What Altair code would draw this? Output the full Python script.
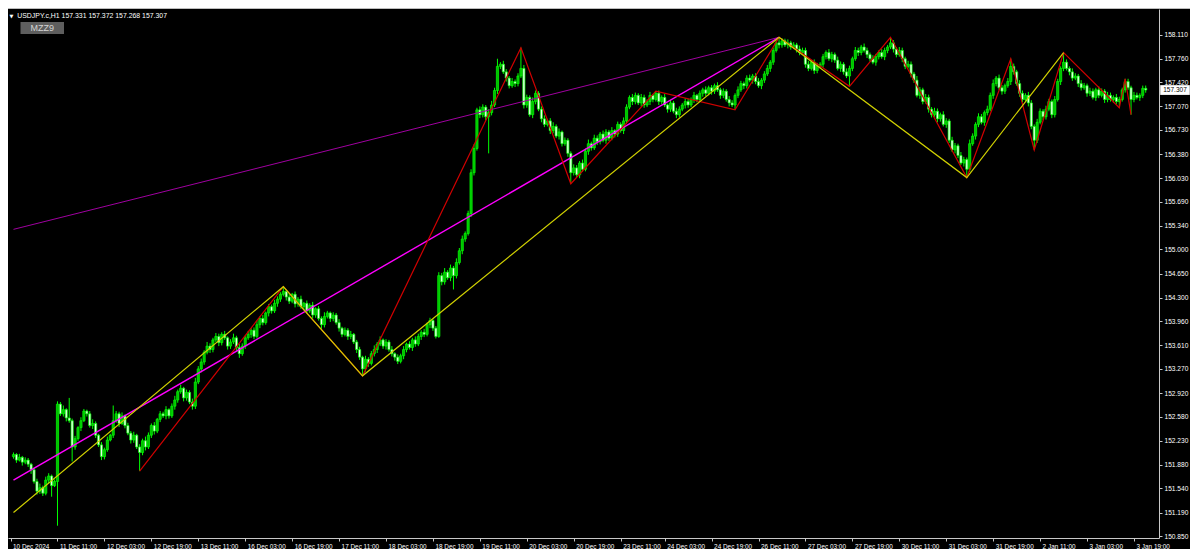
import altair as alt
import pandas as pd

# ---------------- data (USDJPY.c H1) ----------------
first_open = 152.00
close = [
    152.03, 151.95, 151.99, 151.92, 151.95, 151.89, 151.81, 151.64, 151.50, 151.55,
    151.47, 151.66, 151.72, 151.58, 151.64, 152.76, 152.62, 152.68, 152.56, 152.52,
    152.14, 152.26, 152.42, 152.52, 152.66, 152.62, 152.45, 152.48, 152.31, 152.17,
    152.00, 152.10, 152.24, 152.31, 152.52, 152.62, 152.48, 152.59, 152.45, 152.34,
    152.24, 152.31, 152.14, 152.06, 152.23, 152.14, 152.31, 152.45, 152.37, 152.54,
    152.62, 152.59, 152.68, 152.59, 152.73, 152.82, 152.94, 152.99, 152.85, 152.93,
    152.79, 152.73, 153.08, 153.27, 153.37, 153.51, 153.60, 153.55, 153.69, 153.74,
    153.65, 153.77, 153.72, 153.60, 153.66, 153.72, 153.58, 153.49, 153.60, 153.72,
    153.77, 153.83, 153.74, 153.91, 154.00, 153.94, 154.08, 154.17, 154.11, 154.22,
    154.28, 154.35, 154.39, 154.31, 154.25, 154.35, 154.21, 154.28, 154.17, 154.22,
    154.11, 154.19, 154.05, 154.14, 154.00, 153.91, 154.03, 154.08, 154.00, 154.05,
    153.94, 153.86, 153.77, 153.83, 153.74, 153.77, 153.66, 153.55, 153.44, 153.27,
    153.41, 153.35, 153.49, 153.55, 153.63, 153.69, 153.60, 153.66, 153.55, 153.49,
    153.44, 153.38, 153.46, 153.55, 153.63, 153.58, 153.69, 153.63, 153.74, 153.80,
    153.77, 153.91, 153.97, 153.86, 153.74, 154.62, 154.53, 154.67, 154.59, 154.73,
    154.62, 154.81, 154.98, 155.15, 155.23, 155.52, 156.11, 156.46, 157.02, 156.95,
    157.06, 156.92, 156.98, 157.09, 157.30, 157.65, 157.68, 157.57, 157.48, 157.37,
    157.43, 157.40, 157.51, 157.62, 157.09, 157.20, 156.95, 157.14, 157.26, 157.03,
    156.89, 156.81, 156.86, 156.72, 156.78, 156.64, 156.70, 156.53, 156.58, 156.39,
    156.11, 156.18, 156.08, 156.25, 156.16, 156.42, 156.53, 156.47, 156.61, 156.56,
    156.67, 156.58, 156.70, 156.61, 156.72, 156.67, 156.81, 156.72, 156.86, 157.06,
    157.20, 157.14, 157.23, 157.12, 157.20, 157.09, 157.14, 157.23, 157.17, 157.26,
    157.14, 157.20, 157.09, 157.03, 157.12, 157.00, 156.95, 157.03, 157.09, 157.14,
    157.09, 157.17, 157.23, 157.17, 157.26, 157.31, 157.26, 157.34, 157.29, 157.37,
    157.31, 157.23, 157.29, 157.17, 157.12, 157.09, 157.23, 157.31, 157.40, 157.37,
    157.48, 157.45, 157.51, 157.43, 157.37, 157.45, 157.54, 157.62, 157.71, 157.88,
    157.99, 157.96, 158.02, 157.96, 157.99, 157.93, 157.96, 157.90, 157.85, 157.88,
    157.68, 157.62, 157.71, 157.59, 157.65, 157.68, 157.79, 157.85, 157.76, 157.82,
    157.74, 157.62, 157.68, 157.57, 157.51, 157.62, 157.76, 157.88, 157.85, 157.93,
    157.88, 157.82, 157.76, 157.71, 157.79, 157.85, 157.79, 157.88, 157.93, 157.99,
    157.90, 157.82, 157.88, 157.76, 157.65, 157.68, 157.54, 157.45, 157.23, 157.31,
    157.14, 157.20, 157.03, 156.95, 157.00, 156.89, 156.95, 156.81, 156.86, 156.58,
    156.44, 156.50, 156.36, 156.25, 156.30, 156.16, 156.53, 156.64, 156.81, 156.92,
    156.84, 156.98, 157.03, 157.23, 157.40, 157.48, 157.34, 157.29, 157.37, 157.43,
    157.65, 157.57, 157.40, 157.26, 157.17, 157.23, 157.12, 156.78, 156.58, 156.84,
    157.00, 156.92, 157.03, 157.14, 156.95, 157.17, 157.43, 157.62, 157.71, 157.62,
    157.57, 157.48, 157.51, 157.40, 157.34, 157.37, 157.26, 157.29, 157.20, 157.31,
    157.23, 157.29, 157.17, 157.23, 157.17, 157.20, 157.14, 157.17, 157.31, 157.43,
    157.34, 157.17, 157.23, 157.20, 157.23, 157.331, 157.307,
]
upper_wick = [
    0.03, 0.02, 0.05, 0.02, 0.04, 0.03, 0.02, 0.03, 0.04, 0.06,
    0.03, 0.05, 0.04, 0.02, 0.03, 0.04, 0.03, 0.06, 0.02, 0.29,
    0.03, 0.04, 0.02, 0.05, 0.03, 0.02, 0.04, 0.06, 0.03, 0.02,
    0.04, 0.03, 0.05, 0.02, 0.22, 0.04, 0.03, 0.05, 0.02, 0.04,
    0.03, 0.05, 0.02, 0.04, 0.03, 0.06, 0.04, 0.03, 0.05, 0.02,
    0.04, 0.03, 0.05, 0.02, 0.04, 0.06, 0.03, 0.05, 0.02, 0.04,
    0.03, 0.05, 0.06, 0.04, 0.05, 0.03, 0.06, 0.04, 0.03, 0.05,
    0.04, 0.03, 0.05, 0.02, 0.04, 0.06, 0.03, 0.05, 0.04, 0.03,
    0.05, 0.03, 0.04, 0.06, 0.03, 0.05, 0.02, 0.04, 0.03, 0.05,
    0.04, 0.03, 0.07, 0.03, 0.05, 0.02, 0.04, 0.03, 0.05, 0.02,
    0.04, 0.03, 0.05, 0.02, 0.04, 0.03, 0.06, 0.03, 0.02, 0.04,
    0.03, 0.05, 0.02, 0.04, 0.03, 0.05, 0.02, 0.03, 0.04, 0.02,
    0.05, 0.03, 0.04, 0.06, 0.03, 0.05, 0.02, 0.04, 0.03, 0.05,
    0.02, 0.04, 0.03, 0.05, 0.02, 0.04, 0.03, 0.05, 0.04, 0.03,
    0.05, 0.03, 0.04, 0.02, 0.03, 0.05, 0.04, 0.06, 0.03, 0.05,
    0.03, 0.06, 0.04, 0.05, 0.03, 0.04, 0.05, 0.06, 0.03, 0.05,
    0.04, 0.03, 0.05, 0.06, 0.04, 0.11, 0.03, 0.05, 0.04, 0.03,
    0.05, 0.03, 0.04, 0.30, 0.05, 0.04, 0.03, 0.06, 0.04, 0.03,
    0.04, 0.05, 0.03, 0.04, 0.06, 0.03, 0.05, 0.02, 0.04, 0.03,
    0.03, 0.05, 0.04, 0.03, 0.05, 0.04, 0.06, 0.03, 0.05, 0.04,
    0.03, 0.05, 0.04, 0.03, 0.05, 0.02, 0.04, 0.03, 0.05, 0.04,
    0.03, 0.05, 0.04, 0.03, 0.05, 0.04, 0.03, 0.05, 0.02, 0.03,
    0.04, 0.03, 0.05, 0.02, 0.04, 0.03, 0.05, 0.04, 0.03, 0.05,
    0.04, 0.03, 0.05, 0.02, 0.04, 0.03, 0.05, 0.03, 0.04, 0.03,
    0.05, 0.03, 0.04, 0.03, 0.05, 0.04, 0.03, 0.05, 0.04, 0.03,
    0.04, 0.05, 0.03, 0.04, 0.05, 0.03, 0.04, 0.05, 0.03, 0.04,
    0.05, 0.08, 0.04, 0.03, 0.05, 0.03, 0.04, 0.03, 0.05, 0.04,
    0.04, 0.05, 0.03, 0.04, 0.05, 0.03, 0.04, 0.03, 0.05, 0.04,
    0.03, 0.05, 0.04, 0.03, 0.05, 0.04, 0.03, 0.05, 0.04, 0.03,
    0.05, 0.04, 0.03, 0.05, 0.04, 0.03, 0.05, 0.04, 0.03, 0.08,
    0.04, 0.03, 0.05, 0.04, 0.03, 0.05, 0.04, 0.03, 0.06, 0.04,
    0.03, 0.05, 0.04, 0.03, 0.05, 0.04, 0.03, 0.05, 0.04, 0.03,
    0.05, 0.04, 0.03, 0.05, 0.04, 0.03, 0.06, 0.04, 0.03, 0.05,
    0.04, 0.03, 0.05, 0.04, 0.06, 0.03, 0.05, 0.04, 0.03, 0.05,
    0.11, 0.04, 0.03, 0.05, 0.04, 0.03, 0.05, 0.04, 0.03, 0.05,
    0.04, 0.03, 0.05, 0.04, 0.03, 0.05, 0.04, 0.03, 0.14, 0.04,
    0.03, 0.05, 0.04, 0.03, 0.05, 0.04, 0.03, 0.05, 0.04, 0.03,
    0.05, 0.04, 0.03, 0.05, 0.04, 0.03, 0.05, 0.04, 0.03, 0.04,
    0.04, 0.03, 0.05, 0.04, 0.03, 0.04, 0.041,
]
lower_wick = [
    0.03, 0.04, 0.02, 0.05, 0.03, 0.04, 0.06, 0.03, 0.05, 0.04,
    0.04, 0.03, 0.05, 0.16, 0.02, 0.64, 0.03, 0.04, 0.05, 0.03,
    0.21, 0.04, 0.03, 0.05, 0.02, 0.04, 0.03, 0.05, 0.04, 0.03,
    0.05, 0.04, 0.03, 0.02, 0.04, 0.03, 0.05, 0.02, 0.04, 0.03,
    0.05, 0.04, 0.03, 0.27, 0.04, 0.05, 0.03, 0.04, 0.05, 0.03,
    0.04, 0.03, 0.05, 0.04, 0.03, 0.05, 0.04, 0.03, 0.05, 0.04,
    0.03, 0.05, 0.04, 0.03, 0.05, 0.04, 0.03, 0.05, 0.04, 0.03,
    0.05, 0.04, 0.03, 0.05, 0.04, 0.03, 0.05, 0.06, 0.03, 0.04,
    0.03, 0.05, 0.04, 0.03, 0.05, 0.04, 0.03, 0.05, 0.04, 0.03,
    0.05, 0.04, 0.03, 0.05, 0.04, 0.03, 0.05, 0.04, 0.03, 0.05,
    0.04, 0.03, 0.05, 0.04, 0.03, 0.06, 0.04, 0.03, 0.05, 0.04,
    0.03, 0.05, 0.04, 0.03, 0.05, 0.04, 0.03, 0.05, 0.04, 0.10,
    0.04, 0.05, 0.03, 0.04, 0.05, 0.03, 0.04, 0.05, 0.03, 0.04,
    0.05, 0.04, 0.03, 0.05, 0.04, 0.03, 0.05, 0.04, 0.03, 0.05,
    0.04, 0.03, 0.05, 0.04, 0.03, 0.02, 0.05, 0.04, 0.03, 0.05,
    0.20, 0.04, 0.03, 0.05, 0.04, 0.03, 0.05, 0.04, 0.03, 0.05,
    0.04, 0.05, 0.53, 0.04, 0.03, 0.05, 0.04, 0.03, 0.05, 0.04,
    0.03, 0.05, 0.04, 0.03, 0.05, 0.04, 0.03, 0.05, 0.04, 0.03,
    0.05, 0.04, 0.03, 0.05, 0.04, 0.03, 0.05, 0.04, 0.03, 0.05,
    0.16, 0.04, 0.03, 0.05, 0.04, 0.03, 0.05, 0.04, 0.03, 0.05,
    0.04, 0.03, 0.05, 0.04, 0.03, 0.05, 0.04, 0.03, 0.05, 0.04,
    0.03, 0.05, 0.04, 0.03, 0.05, 0.04, 0.03, 0.05, 0.04, 0.03,
    0.05, 0.04, 0.03, 0.05, 0.04, 0.03, 0.05, 0.04, 0.03, 0.05,
    0.04, 0.03, 0.05, 0.04, 0.03, 0.05, 0.04, 0.03, 0.05, 0.04,
    0.03, 0.05, 0.04, 0.03, 0.05, 0.03, 0.07, 0.04, 0.03, 0.05,
    0.04, 0.03, 0.05, 0.04, 0.03, 0.05, 0.04, 0.03, 0.05, 0.04,
    0.03, 0.05, 0.04, 0.03, 0.05, 0.04, 0.03, 0.05, 0.04, 0.03,
    0.05, 0.04, 0.03, 0.05, 0.04, 0.03, 0.05, 0.04, 0.03, 0.05,
    0.04, 0.03, 0.05, 0.04, 0.03, 0.15, 0.04, 0.03, 0.05, 0.04,
    0.03, 0.05, 0.04, 0.03, 0.05, 0.04, 0.03, 0.05, 0.04, 0.03,
    0.05, 0.04, 0.03, 0.05, 0.04, 0.03, 0.05, 0.04, 0.03, 0.05,
    0.04, 0.03, 0.05, 0.04, 0.03, 0.05, 0.04, 0.03, 0.05, 0.04,
    0.03, 0.05, 0.04, 0.03, 0.05, 0.12, 0.04, 0.03, 0.05, 0.04,
    0.03, 0.05, 0.04, 0.03, 0.05, 0.04, 0.03, 0.05, 0.04, 0.03,
    0.05, 0.04, 0.03, 0.05, 0.04, 0.03, 0.05, 0.04, 0.14, 0.04,
    0.03, 0.05, 0.04, 0.03, 0.05, 0.04, 0.03, 0.05, 0.04, 0.03,
    0.05, 0.04, 0.03, 0.05, 0.04, 0.03, 0.05, 0.04, 0.03, 0.05,
    0.04, 0.03, 0.05, 0.04, 0.03, 0.05, 0.04, 0.09, 0.03, 0.04,
    0.03, 0.22, 0.04, 0.03, 0.05, 0.04, 0.039,
]

# zigzag vertices (bar index, price)
red_idx = [43, 92, 119, 173, 190, 219, 246, 261, 285, 299, 325, 340, 348, 358, 377, 379, 381]
red_px = [151.79, 154.46, 153.17, 157.92, 155.95, 157.29, 157.02, 158.07, 157.36, 158.07,
          156.04, 157.76, 156.44, 157.85, 157.05, 157.47, 156.95]
yellow_idx = [0, 92, 119, 261, 325, 358]
yellow_px = [151.19, 154.46, 153.17, 158.07, 156.04, 157.85]
magenta_idx = [0, 261]
magenta_px = [151.66, 158.07]
purple_idx = [0, 261]
purple_px = [155.29, 158.07]

# axis ticks
price_ticks = [150.850, 151.190, 151.540, 151.880, 152.230, 152.580, 152.920, 153.270,
               153.610, 153.960, 154.300, 154.650, 155.000, 155.340, 155.690, 156.030,
               156.380, 156.730, 157.070, 157.420, 157.760, 158.110]
time_idx = [-1, 15, 31, 47, 63, 79, 95, 111, 127, 143, 159, 175, 191, 207, 222, 238,
            254, 270, 286, 302, 318, 334, 350, 366, 382]
time_labels = ["10 Dec 2024", "11 Dec 11:00", "12 Dec 03:00", "12 Dec 19:00", "13 Dec 11:00",
               "16 Dec 03:00", "16 Dec 19:00", "17 Dec 11:00", "18 Dec 03:00", "18 Dec 19:00",
               "19 Dec 11:00", "20 Dec 03:00", "20 Dec 19:00", "23 Dec 11:00", "24 Dec 03:00",
               "24 Dec 19:00", "26 Dec 11:00", "27 Dec 03:00", "27 Dec 19:00", "30 Dec 11:00",
               "31 Dec 03:00", "31 Dec 19:00", "2 Jan 11:00", "3 Jan 03:00", "3 Jan 19:00"]
header = "USDJPY.c,H1  157.331 157.372 157.268 157.307"
last_price = 157.307

# ---------------- tables ----------------
opens = [first_open] + close[:-1]
candles = pd.DataFrame({
    "idx": list(range(len(close))),
    "open": opens,
    "close": close,
    "high": [max(o, c) + u for o, c, u in zip(opens, close, upper_wick)],
    "low": [min(o, c) - l for o, c, l in zip(opens, close, lower_wick)],
})
candles["bull"] = candles["close"] >= candles["open"]

zz_rows = []
for name, ii, pp in [("purple", purple_idx, purple_px), ("magenta", magenta_idx, magenta_px),
                     ("red", red_idx, red_px), ("yellow", yellow_idx, yellow_px)]:
    for k, (a, b) in enumerate(zip(ii, pp)):
        zz_rows.append({"series": name, "idx": a, "price": b, "ord": k})
zz = pd.DataFrame(zz_rows)

W, H = 1151, 529
FONT = "Liberation Sans"
xscale = alt.Scale(domain=[-0.167, 388.83], nice=False, zero=False)
yscale = alt.Scale(domain=[150.822, 158.480], nice=False, zero=False)

lab_js = "[" + ",".join("'" + t + "'" for t in time_labels) + "]"
idx_js = "[" + ",".join(str(v) for v in time_idx) + "]"
xaxis = alt.Axis(values=time_idx, labelExpr=f"{lab_js}[indexof({idx_js}, datum.value)]",
                 title=None, grid=False, orient="bottom", labelAlign="left", labelBaseline="top",
                 labelPadding=2, labelOffset=2, tickSize=3, labelFlush=False, labelOverlap=False,
                 labelColor="#ffffff", tickColor="#c8c8c8", domainColor="#c8c8c8",
                 labelFont=FONT, labelFontSize=6.4)
yaxis = alt.Axis(values=price_ticks, format=".3f", title=None, grid=False, orient="right",
                 labelPadding=2, tickSize=3, labelColor="#ffffff", tickColor="#c8c8c8",
                 domainColor="#c8c8c8", labelFont=FONT, labelFontSize=6.6, labelOverlap=False,
                 labelFlush=False)

base = alt.Chart(candles)
wicks = base.mark_rule(color="#00ff00", strokeWidth=1).encode(
    x=alt.X("idx:Q", scale=xscale, axis=xaxis),
    y=alt.Y("low:Q", scale=yscale, axis=yaxis),
    y2="high:Q",
)
bodies = base.mark_bar(width=2.2, strokeWidth=0.7).encode(
    x=alt.X("idx:Q", scale=xscale, axis=xaxis),
    y=alt.Y("open:Q", scale=yscale, axis=yaxis),
    y2="close:Q",
    fill=alt.condition("datum.bull", alt.value("#00c000"), alt.value("#e8ffe8")),
    stroke=alt.value("#00ff00"),
)

zz_colors = {"purple": ("#a000a0", 1.0), "magenta": ("#ff00ff", 1.4),
             "red": ("#d00000", 1.2), "yellow": ("#d0d000", 1.2)}
lines = []
for name in ["purple", "magenta", "red", "yellow"]:
    col, sw = zz_colors[name]
    lines.append(
        alt.Chart(zz[zz["series"] == name]).mark_line(color=col, strokeWidth=sw, clip=True).encode(
            x=alt.X("idx:Q", scale=xscale, axis=xaxis),
            y=alt.Y("price:Q", scale=yscale, axis=yaxis),
            order="ord:Q",
        )
    )

one = pd.DataFrame({"price": [last_price], "txt": [f"{last_price:.3f}"]})
top_rule = alt.Chart(one).mark_rule(color="#bdbdbd", strokeWidth=1.2, clip=False).encode(
    x=alt.value(0), x2=alt.value(W + 31), y=alt.value(-0.6))
tri = alt.Chart(one).mark_text(text="▼", color="#ffffff", fontSize=5, align="left",
                               baseline="middle", font="DejaVu Sans").encode(
    x=alt.value(1.5), y=alt.value(6.8))
hdr = alt.Chart(one).mark_text(text=header, color="#ffffff", fontSize=6.9, align="left",
                               baseline="middle", font=FONT).encode(
    x=alt.value(9.3), y=alt.value(6.6))
btn = alt.Chart(one).mark_rect(color="#5e5e5e").encode(
    x=alt.value(12.5), x2=alt.value(56), y=alt.value(13), y2=alt.value(25))
btn_t = alt.Chart(one).mark_text(text="MZZ9", color="#d4d4d4", fontSize=9, align="center",
                                 baseline="middle", font=FONT).encode(
    x=alt.value(34.3), y=alt.value(19.2))
pbox = alt.Chart(one).mark_point(shape="M-1,-0.33H1V0.33H-1Z", filled=True, opacity=1,
                                 color="#ffffff", size=876, clip=False).encode(
    x=alt.value(W + 16), y=alt.Y("price:Q", scale=yscale, axis=yaxis))
ptxt = alt.Chart(one).mark_text(color="#000000", fontSize=6.5, align="center",
                                baseline="middle", font=FONT, clip=False).encode(
    x=alt.value(W + 16), y=alt.Y("price:Q", scale=yscale, axis=yaxis), text="txt:N")

chart = alt.layer(wicks, bodies, *lines, top_rule, tri, hdr, btn, btn_t, pbox, ptxt).properties(
    width=W, height=H,
    padding={"left": 0, "top": 1, "right": 31, "bottom": 11},
    autosize=alt.AutoSizeParams(type="none"),
    background="#000000",
).configure_view(stroke=None)

chart.save("out.html", embed_options={"renderer": "svg", "actions": False})
